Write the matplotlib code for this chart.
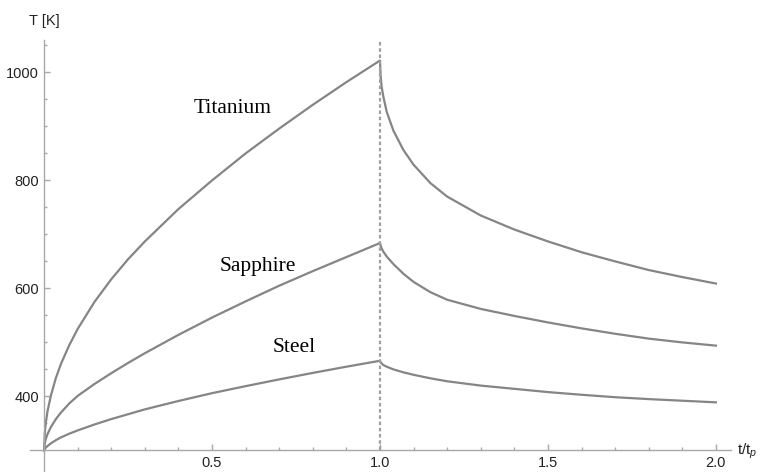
import matplotlib.pyplot as plt

plt.rcParams["font.family"] = ["Liberation Sans", "DejaVu Sans"]
plt.rcParams["mathtext.fontset"] = "custom"
plt.rcParams["mathtext.rm"] = "Liberation Sans"
plt.rcParams["mathtext.it"] = "Liberation Sans:italic"

# values (t in units of t_p, T in kelvin)
titanium_t = [0, 0.002, 0.005, 0.01, 0.02, 0.035, 0.05, 0.075, 0.1, 0.15,
              0.2, 0.25, 0.3, 0.4, 0.5, 0.6, 0.7, 0.8, 0.9, 1.0,
              1.002, 1.005, 1.01, 1.02, 1.04, 1.07, 1.1, 1.15, 1.2, 1.3,
              1.4, 1.5, 1.6, 1.7, 1.8, 1.9, 2.0]
titanium_T = [300, 332, 351, 372, 401, 434, 460, 495, 525, 575,
              617, 654, 687, 747, 800, 850, 896, 940, 982, 1022,
              992, 973, 955, 927, 892, 856, 829, 795, 770, 735,
              709, 687, 667, 650, 634, 621, 609]

sapphire_t = [0, 0.002, 0.005, 0.01, 0.02, 0.035, 0.05, 0.075, 0.1, 0.15,
              0.2, 0.25, 0.3, 0.4, 0.5, 0.6, 0.7, 0.8, 0.9, 1.0,
              1.002, 1.005, 1.01, 1.02, 1.04, 1.07, 1.1, 1.15, 1.2, 1.3,
              1.4, 1.5, 1.6, 1.7, 1.8, 1.9, 2.0]
sapphire_T = [300, 313, 321, 330, 343, 358, 370, 387, 401, 423,
              443, 462, 480, 514, 546, 576, 605, 632, 658, 684,
              679, 674, 668, 659, 645, 627, 612, 593, 579, 562,
              549, 537, 526, 516, 507, 500, 494]

steel_t = [0, 0.002, 0.005, 0.01, 0.02, 0.035, 0.05, 0.075, 0.1, 0.15,
           0.2, 0.25, 0.3, 0.4, 0.5, 0.6, 0.7, 0.8, 0.9, 1.0,
           1.002, 1.005, 1.01, 1.02, 1.04, 1.07, 1.1, 1.15, 1.2, 1.3,
           1.4, 1.5, 1.6, 1.7, 1.8, 1.9, 2.0]
steel_T = [300, 303, 305, 308, 313, 319, 324, 331, 337, 348,
           358, 367, 376, 391.5, 406, 419, 431.5, 443.5, 455, 466,
           463, 461, 458, 455, 450, 444.5, 440, 433.5, 428, 420,
           414, 408, 403, 398.5, 395, 392, 389]

curve_color = "#858585"
axis_color = "#a8a8a8"

fig = plt.figure(figsize=(7.66, 4.72), dpi=100)
ax = fig.add_axes([30 / 766, 0, 701 / 766, 432 / 472])

ax.plot(titanium_t, titanium_T, color=curve_color, lw=1.6)
ax.plot(sapphire_t, sapphire_T, color=curve_color, lw=1.6)
ax.plot(steel_t, steel_T, color=curve_color, lw=1.6)
ax.vlines(1.0, 300, 1062, colors="#a0a0a0", linestyles=(0, (1.6, 1.2)), lw=1.6)

ax.set_xlim(-0.042, 2.045)
ax.set_ylim(260, 1060)

for side in ["top", "right"]:
    ax.spines[side].set_visible(False)
ax.spines["left"].set_position(("data", 0))
ax.spines["bottom"].set_position(("data", 300))
for side in ["left", "bottom"]:
    ax.spines[side].set_color(axis_color)
    ax.spines[side].set_linewidth(1.0)

ax.set_xticks([0.5, 1.0, 1.5, 2.0])
ax.set_xticklabels(["0.5", "1.0", "1.5", "2.0"])
ax.set_xticks([i / 10 for i in range(1, 20) if i % 5], minor=True)
ax.set_yticks([400, 600, 800, 1000])
ax.set_yticks([350, 450, 500, 550, 650, 700, 750, 850, 900, 950, 1050], minor=True)
ax.tick_params(which="both", direction="in", color=axis_color, width=1.0,
               labelsize=10.5, labelcolor="#222222")
ax.tick_params(which="major", length=4.5)
ax.tick_params(which="minor", length=2.5)
ax.tick_params(axis="x", pad=4)
ax.tick_params(axis="y", pad=3.5)

ax.text(0.5625, 924, "Titanium", family="Liberation Serif", fontsize=15.5,
        ha="center", va="baseline")
ax.text(0.637, 632, "Sapphire", family="Liberation Serif", fontsize=15.5,
        ha="center", va="baseline")
ax.text(0.744, 483, "Steel", family="Liberation Serif", fontsize=15.5,
        ha="center", va="baseline")

fig.text(44 / 766, 1 - 20.5 / 472, "T [K]", ha="center", va="center",
         fontsize=10.5, color="#222222")
fig.text(737 / 766, 1 - 451 / 472, r"t/t$_{\mathit{p}}$", ha="left",
         va="center", fontsize=11, color="#222222")

plt.savefig("out.png", dpi=100)
